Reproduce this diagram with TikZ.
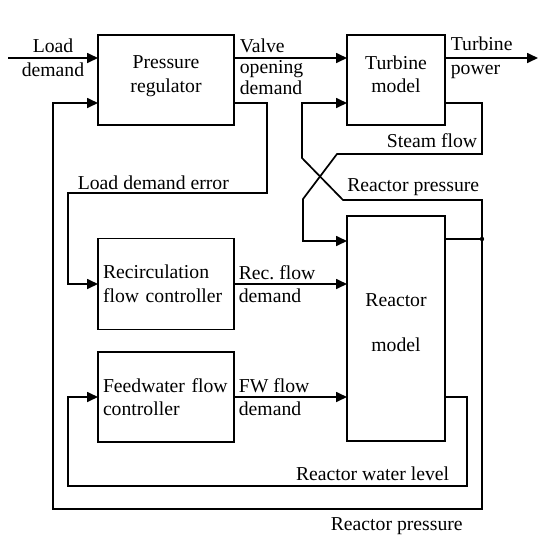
\documentclass[tikz,border=0pt]{standalone}
\usepackage{fontspec}
\setmainfont{Liberation Serif}
\usetikzlibrary{arrows.meta,positioning,calc}

\begin{document}
\begin{tikzpicture}[x=1pt, y=1pt, >={Triangle[length=11pt,width=10pt]},
  line width=1.7pt, node distance=113pt and 113pt,
  font=\fontsize{19.7pt}{23.5pt}\selectfont,
  block/.style={draw, inner sep=0pt, outer sep=0pt, align=center, text depth=12pt},
  ctrl/.style={draw, inner xsep=5pt, inner ysep=0pt, outer sep=0pt, text width=126pt, align=left, minimum height=91pt},
  lbl/.style={inner sep=0pt, align=left}]
  \useasboundingbox (0,0) rectangle (538,-539);

  % Define nodes
  \node[block, minimum width=136pt, minimum height=90pt] (preg) at (166,-80) {Pressure\\regulator};
  \node[block, minimum width=98pt, minimum height=90pt, right=113pt of preg] (turb) {Turbine\\model};
  \node[block, minimum width=98pt, minimum height=225pt, below=91pt of turb] (react) {Reactor\\[21pt]model};
  \node[ctrl, below=113.5pt of preg] (recirc) {Recirculation\\flow controller};
  \node[ctrl, below=22.5pt of recirc, minimum height=90pt] (feed) {Feedwater flow\\controller};

  % Corner points of the feedback lines
  \coordinate (ldin) at (8,-58);
  \coordinate (tpout) at (538,-58);
  \coordinate (junc) at (482,-239);
  \coordinate (sfA) at (482,-154);
  \coordinate (sfB) at (337,-154);
  \coordinate (sfC) at (303,-199);
  \coordinate (rpA) at (482,-200);
  \coordinate (rpB) at (343,-200);
  \coordinate (rpC) at (302,-158);
  \coordinate (leA) at (267,-193);
  \coordinate (leB) at (68,-193);
  \coordinate (wlA) at (467,-486);
  \coordinate (obl) at (53,-509);

  % Draw arrows
  \draw[->] (ldin) -- node[lbl, align=center] {Load\\demand} ([yshift=22pt]preg.west);
  \draw[->] ([yshift=22pt]preg.east) -- ([yshift=22pt]turb.west);
  \draw[->] ([yshift=22pt]turb.east) -- node[lbl, pos=0, anchor=west, xshift=5pt] {Turbine\\power} (tpout);
  \draw[->] ([yshift=-23pt]turb.east) -| (sfA) -- (sfB) -- (sfC) |- ([yshift=-25pt]react.north west);
  \draw ([yshift=-23pt]react.north east) -- (junc);
  \fill (junc) circle (2.2pt);
  \draw[->] (junc) -- (rpA) -- (rpB) -- (rpC) |- ([yshift=-23pt]turb.west);
  \draw[->] (junc) |- (obl) |- ([yshift=-23pt]preg.west);
  \draw[->] ([yshift=-23pt]preg.east) -| (leA) -- (leB) |- (recirc.west);
  \draw[->] (recirc.east) -- node[lbl, pos=0, anchor=west, xshift=4pt] {Rec.\ flow\\demand} (recirc.east -| react.west);
  \draw[->] (feed.east) -- node[lbl, pos=0, anchor=west, xshift=4pt] {FW flow\\demand} (feed.east -| react.west);
  \draw[->] (react.east |- feed.east) -| (wlA) -| (leB |- feed.west) -- (feed.west);

  % Labels
  \node[lbl, anchor=north west, font=\fontsize{19.7pt}{21.3pt}\selectfont] (vod) at (239,-37.5) {Valve\\opening\\demand};
  \node[lbl, anchor=base east] (sflbl) at (478,-147) {Steam flow};
  \node[lbl, anchor=base east] (rplbl) at (480,-191) {Reactor pressure};
  \node[lbl, anchor=base west] (lelbl) at (77,-189) {Load demand error};
  \node[lbl, anchor=base east] (wllbl) at (450,-480) {Reactor water level};
  \node[lbl, anchor=base west] (rpblbl) at (330,-530.5) {Reactor pressure};
\end{tikzpicture}
\end{document}
